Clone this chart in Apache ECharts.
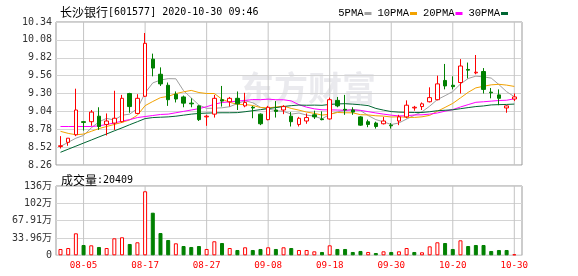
<!DOCTYPE html>
<html><head><meta charset="utf-8">
<script src="https://cdn.jsdelivr.net/npm/echarts@6/dist/echarts.min.js"></script>
<style>html,body{margin:0;padding:0;background:#fff}#c{width:578px;height:276px}</style>
</head><body><div id="c"></div>
<script>
const dates = ['07-31','08-03','08-04','08-05','08-06','08-07','08-10','08-11','08-12','08-13',
  '08-14','08-17','08-18','08-19','08-20','08-21','08-24','08-25','08-26','08-27',
  '08-28','08-31','09-01','09-02','09-03','09-04','09-07','09-08','09-09','09-10',
  '09-11','09-14','09-15','09-16','09-17','09-18','09-21','09-22','09-23','09-24',
  '09-25','09-28','09-29','09-30','10-09','10-12','10-13','10-14','10-15','10-16',
  '10-19','10-20','10-21','10-22','10-23','10-26','10-27','10-28','10-29','10-30'];
const opens = [8.53,8.59,8.70,8.89,8.89,8.97,8.85,8.87,8.89,9.30,
  9.01,9.26,9.80,9.58,9.42,9.29,9.25,9.16,9.12,8.96,
  9.00,9.21,9.18,9.23,9.12,9.10,9.00,8.92,9.06,9.06,
  8.97,8.85,8.90,8.99,8.93,8.93,9.20,9.07,9.06,8.96,
  8.89,8.87,8.86,8.84,8.90,8.96,9.09,9.11,9.18,9.21,
  9.49,9.42,9.46,9.65,9.60,9.62,9.32,9.28,9.09,9.22];
const closes = [8.54,8.65,9.06,8.88,9.03,8.82,8.90,8.94,9.23,9.11,
  9.23,10.03,9.67,9.44,9.21,9.22,9.16,9.15,8.92,8.97,
  9.23,9.19,9.23,9.15,9.17,9.09,8.86,9.10,9.04,9.11,
  8.89,8.94,8.95,8.96,8.92,9.21,9.12,9.06,9.03,8.84,
  8.85,8.82,8.90,8.83,8.96,9.13,9.10,9.15,9.24,9.44,
  9.41,9.40,9.70,9.64,9.61,9.36,9.31,9.23,9.12,9.25];
const lows = [8.50,8.54,8.68,8.76,8.83,8.77,8.69,8.77,8.88,9.02,
  9.00,9.25,9.55,9.41,9.12,9.17,9.10,9.10,8.90,8.83,
  8.95,9.11,9.11,9.06,9.10,8.94,8.84,8.91,8.95,9.00,
  8.82,8.82,8.86,8.93,8.91,8.92,9.10,8.99,8.99,8.83,
  8.81,8.79,8.85,8.79,8.84,8.94,9.05,9.06,9.17,9.20,
  9.36,9.36,9.30,9.52,9.58,9.30,9.23,9.13,9.02,9.19];
const highs = [8.68,8.65,9.37,8.90,9.06,9.10,9.01,9.34,9.28,9.31,
  9.29,10.18,9.88,9.68,9.46,9.33,9.27,9.23,9.13,8.99,
  9.28,9.41,9.25,9.33,9.31,9.12,9.01,9.12,9.19,9.13,
  9.03,8.96,9.01,9.05,9.04,9.24,9.25,9.28,9.10,8.97,
  8.92,8.89,8.96,8.87,8.99,9.20,9.12,9.17,9.39,9.56,
  9.73,9.55,9.80,9.75,9.86,9.67,9.38,9.36,9.13,9.30];
// volume in 万
const volumes = [12.4,14.3,43.1,20.2,19.6,16.3,14.3,33.3,35.3,22.2,
  25.5,125.5,83.5,43.7,30.0,23.5,18.2,16.3,18.2,12.4,
  27.5,24.1,14.3,10.4,15.7,10.4,12.4,15.7,12.4,15.7,
  14.3,10.4,10.4,7.8,6.5,19.6,12.4,12.4,6.5,8.5,
  6.5,4.5,7.8,6.5,7.8,14.3,6.5,5.9,17.6,25.5,
  24.1,12.4,29.4,18.2,20.2,20.2,8.5,10.4,10.4,2.04];
const ma5 = [8.53,8.59,8.65,8.69,8.80,8.888,8.938,8.914,8.984,9.000,
  9.082,9.308,9.454,9.496,9.516,9.514,9.340,9.236,9.132,9.084,
  9.086,9.092,9.108,9.154,9.194,9.166,9.100,9.074,9.052,9.040,
  9.000,9.016,8.986,8.970,8.932,8.996,9.032,9.054,9.068,9.052,
  8.980,8.920,8.888,8.848,8.872,8.928,8.984,9.034,9.116,9.212,
  9.268,9.328,9.438,9.518,9.552,9.542,9.524,9.430,9.326,9.254];
const ma10 = [8.75,8.72,8.70,8.71,8.75,8.79,8.82,8.85,8.88,8.916,
  8.985,9.123,9.184,9.240,9.258,9.298,9.324,9.345,9.314,9.300,
  9.300,9.216,9.172,9.143,9.139,9.126,9.096,9.091,9.103,9.117,
  9.083,9.058,9.030,9.011,8.986,8.998,9.024,9.020,9.019,8.992,
  8.988,8.976,8.971,8.958,8.962,8.954,8.952,8.961,8.982,9.042,
  9.098,9.156,9.236,9.317,9.382,9.405,9.426,9.434,9.422,9.403];
const ma20 = [8.82,8.82,8.82,8.82,8.82,8.83,8.85,8.87,8.90,8.92,
  8.95,8.965,8.98,8.995,9.00,9.02,9.04,9.06,9.08,9.108,
  9.143,9.170,9.178,9.19,9.199,9.212,9.21,9.218,9.209,9.209,
  9.192,9.137,9.101,9.077,9.063,9.062,9.06,9.056,9.061,9.055,
  9.036,9.017,9.0,8.985,8.974,8.976,8.988,8.99,9.0,9.017,
  9.043,9.066,9.104,9.138,9.172,9.18,9.189,9.198,9.202,9.223];
const ma30 = [8.445,8.49,8.534,8.579,8.623,8.668,8.712,8.757,8.80,8.846,
  8.89,8.935,8.95,8.955,8.96,8.97,8.985,9.00,9.01,9.015,
  9.018,9.02,9.02,9.022,9.035,9.05,9.065,9.08,9.095,9.111,
  9.123,9.132,9.129,9.131,9.128,9.141,9.148,9.152,9.145,9.136,
  9.124,9.083,9.058,9.037,9.029,9.026,9.024,9.024,9.035,9.050,
  9.056,9.063,9.079,9.095,9.110,9.119,9.134,9.138,9.141,9.146];
const priceTicks = ['8.26','8.52','8.78','9.04','9.30','9.56','9.82','10.08','10.34'];
const volumeTicks = ['0','33.96万','67.91万','102万','136万'];
const xTickLabels = ['08-05','08-17','08-27','09-08','09-18','09-30','10-20','10-30'];
const priceMin = 8.26, priceMax = 10.34, volumeMax = 135.82;
const stockTitle = '长沙银行';
const stockInfo = '[601577] 2020-10-30 09:46';
const lastVolumeText = ':20409';

const RED = '#ff0000', GREEN = '#008000';
const MONO = "'DejaVu Sans Mono','Noto Sans CJK SC',monospace";
const CJK = "'Noto Sans CJK SC',sans-serif";

const candleData = dates.map((d, i) => [opens[i], closes[i], lows[i], highs[i]]);
const volData = volumes.map((v, i) => {
  const up = i === 0 ? closes[i] >= opens[i] : closes[i] >= closes[i - 1];
  return { value: v, itemStyle: up ? { color: '#fff', borderColor: RED, borderWidth: 1 } : { color: GREEN, borderColor: GREEN, borderWidth: 1 } };
});
const isLabelled = (idx, val) => xTickLabels.indexOf(val !== undefined ? val : dates[idx]) >= 0;

// thin full-height guide bars at the labelled dates (on their own hidden category axes)
const guideSeries = (xi, yi, top) => ({
  type: 'bar', xAxisIndex: xi, yAxisIndex: yi, z: 1, silent: true, barWidth: 1,
  data: dates.map(d => xTickLabels.indexOf(d) >= 0 ? top : '-'),
  itemStyle: { color: '#c4c4c4' }
});

const hiddenCat = (gi) => ({ type: 'category', gridIndex: gi, data: dates, show: false, boundaryGap: true });
const maSeries = (name, data, color) => ({
  name, type: 'line', xAxisIndex: 1, yAxisIndex: 1, data, showSymbol: false, symbol: 'none',
  lineStyle: { width: 1, color }, itemStyle: { color }, z: 4, silent: true
});

const chart = echarts.init(document.getElementById('c'));
chart.setOption({
  animation: false,
  backgroundColor: '#fff',
  title: [
    { left: 55, top: 1, text: '{a|' + stockTitle + '}{b|' + stockInfo + '}',
      textStyle: { fontWeight: 'normal', rich: { a: { fontFamily: CJK, fontSize: 12, color: '#000' }, b: { fontFamily: MONO, fontSize: 10, color: '#000' } } } },
    { left: 56, top: 169, text: '{a|成交量}{b|' + lastVolumeText + '}',
      textStyle: { fontWeight: 'normal', rich: { a: { fontFamily: CJK, fontSize: 12, color: '#000' }, b: { fontFamily: MONO, fontSize: 10, color: '#000' } } } }
  ],
  legend: {
    right: 65, top: 3, align: 'right', itemGap: 6, itemWidth: 7, itemHeight: 3, icon: 'rect',
    textStyle: { fontFamily: "'Liberation Mono',monospace", fontSize: 10.5, color: '#000', padding: [0, -4, 0, 0] },
    data: ['5PMA', '10PMA', '20PMA', '30PMA'], selectedMode: false
  },
  graphic: [{
    type: 'text', left: 240, top: 71, z: 0, silent: true,
    style: { text: '东方财富', font: "bold 34px 'Noto Sans CJK SC'", fill: 'rgba(200,200,210,0.38)' }
  }],
  grid: [
    { left: 56, right: 56, top: 22, height: 143, show: true, borderColor: '#999', borderWidth: 1, backgroundColor: 'transparent' },
    { left: 56.65, right: 59.85, top: 22, height: 143 },
    { left: 56, right: 56, top: 186, height: 69.3, show: true, borderColor: '#999', borderWidth: 1, backgroundColor: 'transparent' },
    { left: 56.65, right: 59.85, top: 186, height: 69.3 }
  ],
  xAxis: [
    hiddenCat(0),
    { type: 'category', gridIndex: 1, data: dates, boundaryGap: true, axisLine: { show: false }, axisTick: { show: false }, axisLabel: { show: false }, splitLine: { show: false } },
    hiddenCat(2),
    { type: 'category', gridIndex: 3, data: dates, boundaryGap: true, axisLine: { show: false }, axisTick: { show: false }, splitLine: { show: false },
      axisLabel: { color: RED, fontFamily: MONO, fontSize: 9.2, margin: 6, interval: isLabelled } },
    hiddenCat(1),
    hiddenCat(3)
  ],
  yAxis: [
    { type: 'value', gridIndex: 0, min: 0, max: priceTicks.length - 1, interval: 1,
      axisLine: { show: false }, axisTick: { show: false },
      axisLabel: { color: '#333', fontFamily: MONO, fontSize: 10, margin: 4, formatter: v => priceTicks[Math.round(v)] },
      splitLine: { lineStyle: { color: '#d4d4d4', width: 1 } } },
    { type: 'value', gridIndex: 1, min: priceMin, max: priceMax, show: false, splitLine: { show: false } },
    { type: 'value', gridIndex: 2, min: 0, max: volumeTicks.length - 1, interval: 1,
      axisLine: { show: false }, axisTick: { show: false },
      axisLabel: { color: '#333', fontFamily: MONO, fontSize: 10, margin: 4, formatter: v => volumeTicks[Math.round(v)] },
      splitLine: { lineStyle: { color: '#d4d4d4', width: 1 } } },
    { type: 'value', gridIndex: 3, min: 0, max: volumeMax, show: false, splitLine: { show: false } }
  ],
  series: [
    guideSeries(4, 1, priceMax),
    { name: 'K', type: 'candlestick', xAxisIndex: 1, yAxisIndex: 1, data: candleData, barWidth: 4, z: 6,
      itemStyle: { color: '#fff', color0: GREEN, borderColor: RED, borderColor0: GREEN, borderWidth: 1 }, silent: true },
    maSeries('5PMA', ma5, '#a0a0a0'),
    maSeries('10PMA', ma10, '#f2a200'),
    maSeries('20PMA', ma20, '#ff00ff'),
    maSeries('30PMA', ma30, '#006633'),
    guideSeries(5, 3, volumeMax),
    { name: 'VOL', type: 'bar', xAxisIndex: 3, yAxisIndex: 3, data: volData, barWidth: 4, z: 6, silent: true }
  ]
});
</script></body></html>
